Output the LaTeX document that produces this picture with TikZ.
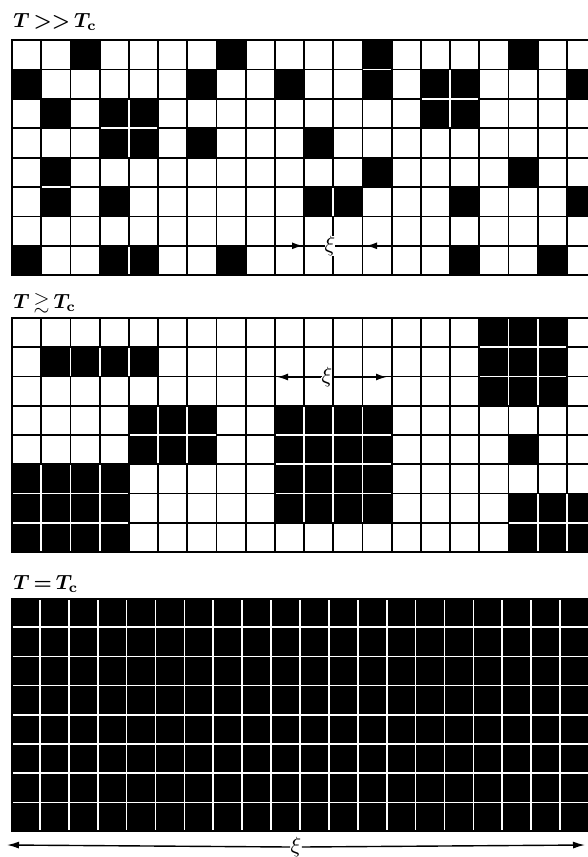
\documentclass[tikz,border=0pt]{standalone}
\usepackage{amssymb}
\usetikzlibrary{arrows.meta}
\newcommand{\spingrid}[5]{%
  \foreach \rowvals [count=\rj from 0] in {#5} {%
    \foreach \cellv [count=\ci from 0] in \rowvals {%
      \pgfmathsetmacro\xa{#1+\ci*#3}%
      \pgfmathsetmacro\ya{#2+\rj*#4}%
      \pgfmathsetmacro\xb{\xa+#3}%
      \pgfmathsetmacro\yb{\ya+#4}%
      \ifnum\cellv=1
        \fill[black] (\xa+0.9,\ya+0.9) rectangle (\xb-0.9,\yb-0.9);
      \else
        \draw[gridline] (\xa,\ya) rectangle (\xb,\yb);
      \fi
    }%
  }%
  \draw[gridline] (#1,#2) rectangle ({#1+20*#3},{#2+8*#4});
}
\begin{document}
\begin{tikzpicture}[x=1pt,y=-1pt,
  gridline/.style={line width=1.8pt, line join=miter},
  xilabel/.style={fill=white, inner sep=0pt, scale=2.2},
  templabel/.style={anchor=base west, inner sep=0pt, scale=2.05, font=\boldmath},
  dimarrow/.style={line width=1.8pt, -{Latex[length=11pt,width=7pt]}},
  longarrow/.style={line width=1.4pt, -{Latex[length=12pt,width=7pt]}}]
\useasboundingbox (0,0) rectangle (588,857);
\clip (0,0) rectangle (588,857);

% ---------- grid 1 : T >> Tc ----------
\spingrid{12}{40}{29.2}{29.4}{%
{0,0,1,0,0,0,0,1,0,0,0,0,1,0,0,0,0,1,0,0},%
{1,0,0,0,0,0,1,0,0,1,0,0,1,0,1,1,0,0,0,1},%
{0,1,0,1,1,0,0,0,0,0,0,0,0,0,1,1,0,0,0,0},%
{0,0,0,1,1,0,1,0,0,0,1,0,0,0,0,0,0,0,0,0},%
{0,1,0,0,0,0,0,0,0,0,0,0,1,0,0,0,0,1,0,0},%
{0,1,0,1,0,0,0,0,0,0,1,1,0,0,0,1,0,0,0,1},%
{0,0,0,0,0,0,0,0,0,0,0,0,0,0,0,0,0,0,0,0},%
{1,0,0,1,1,0,0,1,0,0,0,0,0,0,0,1,0,0,1,0}}

% ---------- grid 2 : T >~ Tc ----------
\spingrid{12}{318}{29.2}{29.25}{%
{0,0,0,0,0,0,0,0,0,0,0,0,0,0,0,0,1,1,1,0},%
{0,1,1,1,1,0,0,0,0,0,0,0,0,0,0,0,1,1,1,0},%
{0,0,0,0,0,0,0,0,0,0,0,0,0,0,0,0,1,1,1,0},%
{0,0,0,0,1,1,1,0,0,1,1,1,1,0,0,0,0,0,0,0},%
{0,0,0,0,1,1,1,0,0,1,1,1,1,0,0,0,0,1,0,0},%
{1,1,1,1,0,0,0,0,0,1,1,1,1,0,0,0,0,0,0,0},%
{1,1,1,1,0,0,0,0,0,1,1,1,1,0,0,0,0,1,1,1},%
{1,1,1,1,0,0,0,0,0,0,0,0,0,0,0,0,0,1,1,1}}

% ---------- grid 3 : T = Tc ----------
\fill[black] (11,598) rectangle (589,831.6);
\foreach \k in {1,...,19}
  \draw[white, line width=1.7pt] ({11+\k*28.9},600) -- ({11+\k*28.9},829.6);
\foreach \k in {1,...,7}
  \draw[white, line width=1.7pt] (13,{598+\k*29.2}) -- (588,{598+\k*29.2});

% ---------- labels ----------
\node[templabel] (lab1) at (13,27) {$T\,{>}{>}\,T_{\mathrm{c}}$};
\node[templabel] (lab2) at (13,308) {$T\,{\gtrsim}\,T_{\mathrm{c}}$};
\node[templabel] (lab3) at (13,589) {$T\,{=}\,T_{\mathrm{c}}$};

% ---------- xi markers ----------
\node[xilabel] (xi1) at (330,245.8) {$\xi$};
\coordinate (g1la) at (278,245.8);
\coordinate (g1lb) at (303,245.8);
\coordinate (g1ra) at (392,245.8);
\coordinate (g1rb) at (366,245.8);
\draw[dimarrow] (g1la) -- (g1lb);
\draw[dimarrow] (g1ra) -- (g1rb);

\node[xilabel] (xi2) at (327,377) {$\xi$};
\coordinate (g2l) at (277,377);
\coordinate (g2r) at (387,377);
\draw[dimarrow] (xi2.west) -- (g2l);
\draw[dimarrow] (xi2.east) -- (g2r);

\node[xilabel] (xi3) at (296,847) {$\xi$};
\coordinate (g3l) at (7,845);
\coordinate (g3r) at (585,845);
\draw[longarrow] (xi3.west) -- (g3l);
\draw[longarrow] (xi3.east) -- (g3r);
\end{tikzpicture}
\end{document}
